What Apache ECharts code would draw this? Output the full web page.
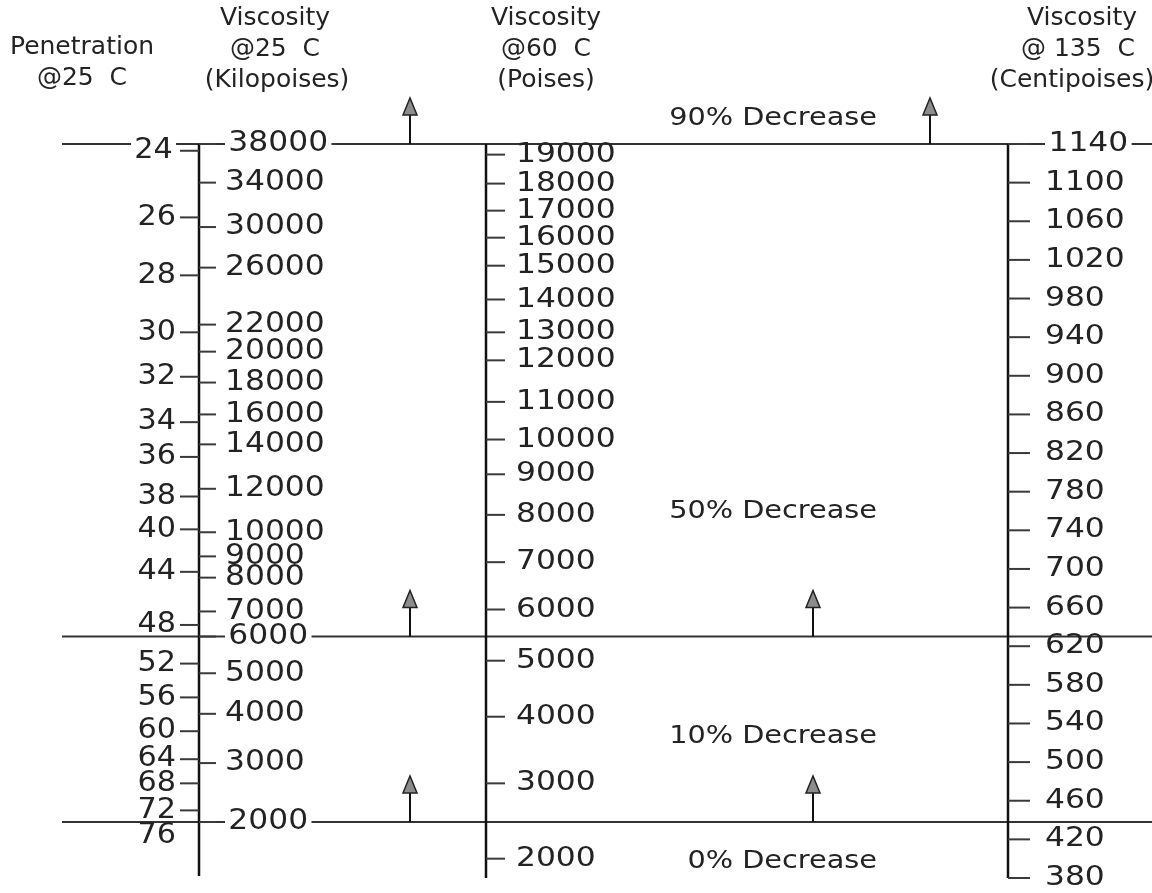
<!DOCTYPE html>
<html>
<head>
<meta charset="utf-8">
<title>Asphalt consistency nomograph</title>
<script src="https://cdn.jsdelivr.net/npm/echarts/dist/echarts.min.js"></script>
<style>
  html, body { margin: 0; padding: 0; background: #fff; }
  #chart { width: 1152px; height: 893px; }
</style>
</head>
<body>
<div id="chart"></div>
<script>
// The common vertical scale of the nomograph is the (linear) viscosity @135 C in centipoises.
// Every other scale is given as tick values plus the equivalent 135 C position of each tick.

// Viscosity @135 C (Centipoises)
const centipoise135 = [1140, 1100, 1060, 1020, 980, 940, 900, 860, 820, 780, 740, 700, 660, 620, 580, 540, 500, 460, 420, 380];

// Penetration @25 C
const penetration   = [24, 26, 28, 30, 32, 34, 36, 38, 40, 44, 48, 52, 56, 60, 64, 68, 72, 76];
const penetrationAt = [1133, 1064, 1004, 945, 899, 852, 816, 775, 741, 697, 642, 602, 567, 532, 503, 478, 450, 424];

// Viscosity @25 C (Kilopoises)
const kilopoise   = [38000, 34000, 30000, 26000, 22000, 20000, 18000, 16000, 14000, 12000, 10000, 9000, 8000, 7000, 6000, 5000, 4000, 3000, 2000];
const kilopoiseAt = [1140, 1100, 1054, 1012, 953, 925, 893, 860, 829, 783, 738, 713, 691, 656, 630, 592, 550, 499, 438];

// Viscosity @60 C (Poises)
const poise60   = [19000, 18000, 17000, 16000, 15000, 14000, 13000, 12000, 11000, 10000, 9000, 8000, 7000, 6000, 5000, 4000, 3000, 2000];
const poise60At = [1129, 1099, 1071, 1043, 1014, 979, 945, 916, 873, 834, 798, 756, 707, 658, 605, 547, 478, 400];

// Boundaries between the decrease zones, fixed by the 25 C viscosity (kilopoises)
const boundaryKilopoise = [38000, 6000, 2000];
const boundaryPercent   = [90, 50, 10];

// Zone captions
const zoneLabels = ['90% Decrease', '50% Decrease', '10% Decrease', '0% Decrease'];

// ---- layout ----
const INK = '#232323';
const TICK = '#3a3a3a';
const FONT = '"DejaVu Sans", sans-serif';
const boundaryAt = boundaryKilopoise.map(k => kilopoiseAt[kilopoise.indexOf(k)]);
const zoneLabelAt = [1166, 760, 526, 397];
const zoneLabelRight = 877;
const boundaryLeft = 62, boundaryRight = 1152;
const arrowX = [[410, 930], [410, 813], [410, 813]];
const ARROW_LEN = 46;

const scaleDefs = [
  { values: penetration,   at: penetrationAt, axisX: 199, side: -1, tickLen: 19, gap: 4,  size: 28, stretch: 1.08, labelOnly: [76] },
  { values: kilopoise,     at: kilopoiseAt,   axisX: 199, side: 1,  tickLen: 17, gap: 9,  size: 28, stretch: 1.12, labelOnly: [] },
  { values: poise60,       at: poise60At,     axisX: 486, side: 1,  tickLen: 19, gap: 11, size: 27, stretch: 1.16, labelOnly: [] },
  { values: centipoise135, at: centipoise135, axisX: 1008, side: 1, tickLen: 22, gap: 15, size: 27, stretch: 1.16, labelOnly: [] }
];
// vertical axis lines: x, top, bottom (in 135 C units)
const axisLines = [[199, 1140, 382], [486, 1140, 380], [1008, 1140, 380]];

function tickSeries(def) {
  return {
    type: 'custom',
    coordinateSystem: 'cartesian2d',
    clip: false,
    z: 3,
    data: def.values.map((v, i) => [v, def.at[i]]),
    renderItem(params, api) {
      const label = api.value(0);
      const pos = api.value(1);
      const y = api.coord([0, pos])[1];
      const x0 = def.axisX;
      const x1 = def.axisX + def.side * def.tickLen;
      const boxed = boundaryAt.some(b => Math.abs(b - pos) < 8);
      const tx = x1 + def.side * def.gap;
      const children = [];
      if (def.labelOnly.indexOf(label) < 0) {
        children.push({ type: 'line', shape: { x1: x0, y1: y, x2: x1, y2: y }, style: { stroke: TICK, lineWidth: 2 } });
      }
      children.push({
        type: 'text', x: tx, y: y, scaleX: def.stretch,
        style: {
          text: String(label), x: 0, y: 0,
          align: def.side < 0 ? 'right' : 'left', verticalAlign: 'middle',
          fontSize: def.size, fontFamily: FONT, fill: INK,
          backgroundColor: boxed ? '#fff' : 'transparent',
          padding: boxed ? [0, 3] : 0
        }
      });
      return { type: 'group', children };
    }
  };
}

const series = [];

// zone boundaries with their upward arrows
series.push({
  type: 'custom', coordinateSystem: 'cartesian2d', clip: false, z: 1,
  data: boundaryAt.map((p, i) => [boundaryPercent[i], p]),
  renderItem(params, api) {
    const y = api.coord([0, api.value(1)])[1];
    const children = [
      { type: 'line', shape: { x1: boundaryLeft, y1: y, x2: boundaryRight, y2: y }, style: { stroke: '#333', lineWidth: 2 } }
    ];
    arrowX[params.dataIndex].forEach(ax => {
      const tip = y - ARROW_LEN;
      children.push({ type: 'line', shape: { x1: ax, y1: y, x2: ax, y2: tip + 14 }, style: { stroke: '#111', lineWidth: 2 } });
      children.push({
        type: 'polygon',
        shape: { points: [[ax - 7, tip + 17], [ax + 7, tip + 17], [ax, tip]] },
        style: { fill: '#8c8c8c', stroke: '#222', lineWidth: 1.5 }
      });
    });
    return { type: 'group', children };
  }
});

// vertical scale lines
series.push({
  type: 'custom', coordinateSystem: 'cartesian2d', clip: false, z: 2,
  data: axisLines,
  renderItem(params, api) {
    const x = api.value(0);
    const yTop = api.coord([0, api.value(1)])[1];
    const yBot = api.coord([0, api.value(2)])[1];
    return { type: 'line', shape: { x1: x, y1: yTop, x2: x, y2: yBot }, style: { stroke: '#111', lineWidth: 2.5 } };
  }
});

scaleDefs.forEach(d => series.push(tickSeries(d)));

// zone captions
series.push({
  type: 'custom', coordinateSystem: 'cartesian2d', clip: false, z: 3,
  data: zoneLabelAt.map(p => [0, p]),
  renderItem(params, api) {
    const y = api.coord([0, api.value(1)])[1];
    return {
      type: 'text', x: zoneLabelRight, y: y, scaleX: 1.15,
      style: {
        text: zoneLabels[params.dataIndex], x: 0, y: 0,
        align: 'right', verticalAlign: 'middle',
        fontSize: 25, fontFamily: FONT, fill: INK
      }
    };
  }
});

// column headings: [text, centre x, centre y]
const headings = [
  ['Penetration', 82, 47], ['@25  C', 82, 78],
  ['Viscosity', 275, 18], ['@25  C', 275, 49], ['(Kilopoises)', 277, 80],
  ['Viscosity', 546, 18], ['@60  C', 546, 49], ['(Poises)', 546, 80],
  ['Viscosity', 1082, 18], ['@ 135  C', 1078, 49], ['(Centipoises)', 1072, 80]
];
const graphic = headings.map(([t, x, y]) => ({
  type: 'text', x, y,
  style: { text: t, x: 0, y: 0, textAlign: 'center', textVerticalAlign: 'middle', fontSize: 25, fontFamily: FONT, fill: INK }
}));

const chart = echarts.init(document.getElementById('chart'), null, { renderer: 'canvas' });
chart.setOption({
  backgroundColor: '#fff',
  animation: false,
  grid: { left: 0, right: 0, top: 144, bottom: 15 },
  xAxis: { type: 'value', min: 0, max: 1152, show: false },
  yAxis: { type: 'value', min: 380, max: 1140, show: false },
  series,
  graphic
});
</script>
</body>
</html>
